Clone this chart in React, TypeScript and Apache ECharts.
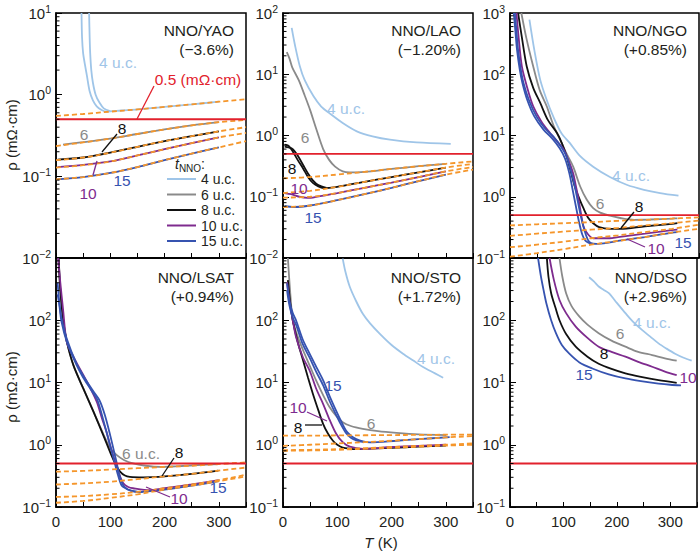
import React, { useEffect, useRef } from 'react';
import * as echarts from 'echarts';

const FONT = '"Liberation Sans", Arial, Helvetica, sans-serif';
const TXT = '#231f20';
const C = { lb: '#9fc5e8', gr: '#8a8a8a', bk: '#111111', pu: '#7e2b8e', bl: '#3653b0', or: '#f5962b', rd: '#e2212c' };

const T_MIN = 0;
const T_MAX = 350;
const T_STEP = 50;
const THRESHOLD = 0.5;
const FIT_T = [0, 50, 100, 150, 200, 250, 300, 350];
const LEGEND_NAMES = ['4 u.c.', '6 u.c.', '8 u.c.', '10 u.c.', '15 u.c.'];

// ---------- NNO/YAO ----------
const YAO_FIT_4 = [0.55, 0.58, 0.62, 0.66, 0.71, 0.76, 0.82, 0.88];
const YAO_FIT_6 = [0.235, 0.26, 0.29, 0.33, 0.375, 0.42, 0.46, 0.49];
const YAO_FIT_8 = [0.158, 0.17, 0.195, 0.23, 0.27, 0.31, 0.355, 0.4];
const YAO_FIT_10 = [0.128, 0.137, 0.152, 0.18, 0.215, 0.255, 0.3, 0.34];
const YAO_FIT_15 = [0.092, 0.098, 0.11, 0.13, 0.158, 0.19, 0.226, 0.27];
const YAO_4A = [[47, 10], [48, 5], [50, 3.2], [53, 2.4], [57, 1.7], [62, 1.1], [68, 0.85], [75, 0.72], [84, 0.65], [93, 0.62], [120, 0.64], [150, 0.66], [200, 0.71], [250, 0.76], [300, 0.82]];
const YAO_4B = [[61, 10], [62, 5], [63, 3.2], [65, 2.0], [68, 1.4], [73, 1.0], [80, 0.8], [88, 0.68], [100, 0.63]];
const YAO_6 = [[13, 0.245], [50, 0.262], [100, 0.29], [150, 0.33], [200, 0.375], [250, 0.42], [300, 0.46]];
const YAO_8 = [[3, 0.16], [50, 0.17], [100, 0.195], [150, 0.23], [200, 0.27], [250, 0.31], [300, 0.355]];
const YAO_10 = [[3, 0.13], [50, 0.138], [100, 0.152], [150, 0.18], [200, 0.215], [250, 0.255], [300, 0.3]];
const YAO_15 = [[3, 0.092], [50, 0.098], [100, 0.11], [150, 0.13], [200, 0.158], [250, 0.19], [300, 0.226]];

// ---------- NNO/LAO ----------
const LAO_FIT_6 = [0.2, 0.21, 0.23, 0.255, 0.285, 0.315, 0.345, 0.378];
const LAO_FIT_8 = [0.115, 0.125, 0.145, 0.175, 0.21, 0.25, 0.3, 0.343];
const LAO_FIT_10 = [0.097, 0.1, 0.115, 0.14, 0.17, 0.21, 0.26, 0.306];
const LAO_FIT_15 = [0.068, 0.072, 0.088, 0.11, 0.14, 0.18, 0.23, 0.277];
const LAO_4 = [[16, 57], [22, 30], [31, 13.5], [40, 8], [56, 4.4], [70, 3.0], [86, 2.3], [110, 1.6], [136, 1.17], [165, 0.97], [197, 0.855], [246, 0.77], [309, 0.73]];
const LAO_6 = [[7, 23], [12, 18], [17, 13], [29, 8], [40, 4.5], [50, 2.6], [61, 1.3], [74, 0.6], [85, 0.4], [96, 0.31], [110, 0.26], [123, 0.25], [150, 0.255], [200, 0.285], [250, 0.315], [300, 0.345]];
const LAO_8A = [[3, 0.71], [10, 0.68], [18, 0.55], [27, 0.4], [37, 0.29], [46, 0.21], [55, 0.168], [65, 0.148], [74, 0.139], [85, 0.14], [100, 0.145], [150, 0.175], [200, 0.21], [250, 0.25], [300, 0.3]];
const LAO_8B = [[3, 0.66], [10, 0.64], [18, 0.6], [27, 0.47], [37, 0.33], [46, 0.24], [55, 0.185], [65, 0.155], [80, 0.14]];
const LAO_10 = [[3, 0.115], [15, 0.11], [30, 0.1], [45, 0.096], [55, 0.097], [100, 0.115], [150, 0.14], [200, 0.17], [250, 0.21], [300, 0.26]];
const LAO_15 = [[3, 0.07], [20, 0.068], [50, 0.072], [100, 0.088], [150, 0.11], [200, 0.14], [250, 0.18], [300, 0.23]];

// ---------- NNO/NGO ----------
const NGO_FIT_6 = [0.34, 0.355, 0.37, 0.385, 0.405, 0.42, 0.44, 0.46];
const NGO_FIT_8 = [0.23, 0.25, 0.27, 0.29, 0.31, 0.34, 0.37, 0.41];
const NGO_FIT_10 = [0.15, 0.165, 0.185, 0.21, 0.235, 0.265, 0.3, 0.35];
const NGO_FIT_15 = [0.105, 0.12, 0.14, 0.165, 0.19, 0.22, 0.26, 0.3];
const NGO_4 = [[36, 780], [45, 250], [56, 81], [68, 38], [80, 20.5], [95, 11], [111, 7.5], [130, 4.6], [154, 3.1], [185, 2.1], [216, 1.57], [248, 1.3], [278, 1.15], [312, 1.04]];
const NGO_6 = [[21, 1000], [30, 400], [43, 134], [55, 55], [68, 30], [80, 15], [93, 8.5], [105, 5], [117, 3.1], [130, 1.47], [142, 0.9], [154, 0.65], [167, 0.55], [185, 0.49], [204, 0.45], [230, 0.42], [260, 0.425], [300, 0.44], [310, 0.445]];
const NGO_8 = [[15, 1000], [22, 400], [31, 134], [43, 60], [56, 34], [70, 18], [87, 11], [96, 7.5], [105, 4.5], [113, 2.5], [120, 1.47], [128, 0.95], [136, 0.65], [145, 0.45], [154, 0.37], [165, 0.32], [185, 0.3], [204, 0.3], [250, 0.33], [300, 0.36], [310, 0.37]];
const NGO_10 = [[12, 1000], [16, 400], [22, 134], [32, 60], [43, 30], [58, 17], [74, 11], [90, 7.5], [99, 6], [108, 4], [117, 2.4], [122, 1.5], [127, 0.9], [132, 0.5], [136, 0.33], [142, 0.26], [154, 0.21], [185, 0.21], [200, 0.22], [250, 0.25], [300, 0.285], [310, 0.29]];
const NGO_15A = [[9, 1000], [12, 500], [15, 250], [20, 120], [25, 72], [35, 38], [49, 20.5], [65, 13], [80, 9.7], [95, 6.5], [105, 4.5], [113, 2.6], [120, 1.47], [126, 0.8], [132, 0.45], [138, 0.28], [144, 0.2], [150, 0.175], [160, 0.17], [185, 0.18], [200, 0.19], [250, 0.22], [300, 0.26], [310, 0.265]];
const NGO_15B = [[7, 1000], [10, 500], [13, 250], [18, 120], [23, 72], [32, 38], [45, 20.5], [62, 12.5], [78, 9], [92, 6.2], [102, 4.2], [110, 2.4], [116, 1.3], [122, 0.7], [128, 0.38], [134, 0.24], [140, 0.19], [150, 0.17]];

// ---------- NNO/LSAT ----------
const LSAT_FIT_6 = [0.37, 0.38, 0.4, 0.42, 0.44, 0.46, 0.49, 0.52];
const LSAT_FIT_8 = [0.23, 0.24, 0.255, 0.28, 0.31, 0.34, 0.385, 0.43];
const LSAT_FIT_10 = [0.145, 0.15, 0.16, 0.175, 0.2, 0.23, 0.27, 0.33];
const LSAT_FIT_15 = [0.117, 0.125, 0.14, 0.16, 0.19, 0.22, 0.26, 0.31];
const LSAT_6 = [[4, 1000], [8, 300], [13, 96], [20, 45], [32, 19], [50, 8.1], [69, 3.4], [87, 1.5], [100, 0.87], [112, 0.68], [125, 0.57], [142, 0.5], [165, 0.46], [192, 0.44], [220, 0.45], [260, 0.47], [300, 0.49]];
const LSAT_8 = [[5, 1000], [8, 300], [13.5, 96], [20, 45], [32, 19], [50, 8.1], [69, 3.4], [87, 1.43], [102, 0.68], [110, 0.48], [118, 0.37], [127, 0.32], [136, 0.305], [161, 0.3], [200, 0.31], [250, 0.34], [299, 0.385]];
const LSAT_10 = [[4, 1000], [8, 400], [13, 150], [19.6, 46], [30, 28], [50, 13.3], [62, 8.5], [75, 4.9], [85, 2.6], [93, 1.62], [101, 0.9], [109, 0.53], [117, 0.33], [124, 0.24], [133, 0.21], [142, 0.2], [173, 0.186], [200, 0.2], [250, 0.23], [300, 0.27]];
const LSAT_15A = [[3, 260], [6, 180], [10, 96], [20, 45], [38, 19], [50, 12], [63, 8], [75, 5.5], [81, 3.9], [93, 1.6], [106, 0.6], [114, 0.33], [121, 0.22], [128, 0.2], [136, 0.186], [150, 0.175], [200, 0.19], [250, 0.22], [300, 0.26]];
const LSAT_15B = [[3, 400], [6, 200], [10, 110], [20, 50], [38, 20], [55, 11], [70, 7], [80, 5.2], [90, 3], [100, 1.4], [110, 0.6], [118, 0.3], [126, 0.21], [140, 0.18], [160, 0.175]];

// ---------- NNO/STO ----------
const STO_FIT_6 = [1.4, 1.4, 1.41, 1.42, 1.43, 1.44, 1.45, 1.46];
const STO_FIT_15 = [0.96, 1.0, 1.05, 1.1, 1.16, 1.23, 1.31, 1.38];
const STO_FIT_10 = [0.82, 0.83, 0.85, 0.88, 0.92, 0.96, 1.0, 1.05];
const STO_FIT_8 = [0.8, 0.81, 0.83, 0.86, 0.89, 0.93, 0.97, 1.0];
const STO_4 = [[110, 980], [115, 600], [123, 345], [135, 200], [147, 127], [160, 90], [178, 61], [200, 40], [221, 29], [240, 22.5], [258, 17.7], [280, 14], [295, 11.9]];
const STO_6 = [[9, 1000], [13, 300], [18, 100], [27, 55], [37, 33], [50, 18], [61, 10.8], [75, 6], [86, 4], [98, 2.9], [110, 2.3], [125, 2.0], [147, 1.8], [175, 1.65], [209, 1.55], [250, 1.47], [301, 1.43]];
const STO_8 = [[9, 440], [13, 200], [18, 100], [27, 45], [37, 22.6], [46, 12], [55, 6.6], [65, 3.6], [74, 2.15], [83, 1.5], [92, 1.16], [100, 1.0], [110, 0.9], [125, 0.86], [135, 0.85], [150, 0.86], [200, 0.89], [250, 0.93], [300, 0.97]];
const STO_10 = [[7.5, 410], [12, 200], [18, 100], [24, 54], [37, 25], [49, 15.6], [61, 8], [74, 4.5], [86, 2.5], [98, 1.5], [110, 1.1], [123, 0.93], [147, 0.86], [200, 0.92], [250, 0.96], [300, 1.0]];
const STO_15A = [[7.5, 390], [12, 200], [18, 130], [24, 100], [36, 50], [49, 29], [61, 18], [74, 10.8], [86, 6], [98, 3.5], [107, 2.4], [116, 1.7], [125, 1.4], [135, 1.23], [147, 1.13], [160, 1.09], [209, 1.16], [250, 1.23], [307, 1.33]];
const STO_15B = [[7.5, 300], [12, 170], [18, 110], [24, 85], [36, 42], [49, 25], [61, 15], [74, 9], [86, 5], [98, 3], [107, 2.1], [116, 1.55], [125, 1.3], [135, 1.18], [150, 1.1]];

// ---------- NNO/DSO ----------
const DSO_4 = [[148, 490], [157, 420], [166, 348], [175, 310], [185, 272], [200, 190], [216, 130], [230, 95], [247, 70], [262, 55], [278, 42.5], [293, 35], [309, 29], [325, 25], [340, 22.4]];
const DSO_6 = [[92.6, 1000], [98, 500], [105, 272], [115, 170], [130, 114], [145, 85], [166, 62], [190, 47], [216, 37.6], [240, 31], [266, 27.6], [290, 24.5], [312, 22.4]];
const DSO_8 = [[69, 1000], [72, 500], [77, 272], [85, 160], [92.6, 100], [105, 60], [123, 37.6], [145, 26], [166, 20], [190, 16.5], [216, 14], [245, 12.3], [278, 10.9], [312, 9.9]];
const DSO_10 = [[74, 1000], [82, 450], [92.6, 212], [105, 130], [123, 79], [145, 52], [166, 37.6], [190, 31], [216, 26], [240, 21.5], [266, 17.9], [290, 15], [312, 13.1]];
const DSO_15 = [[52.5, 1000], [58, 500], [63, 300], [68, 188], [77, 100], [86, 62], [97, 40], [111, 29], [130, 21], [154, 16.8], [185, 13.5], [216, 11.6], [245, 10.5], [278, 9.6], [300, 9.2], [320, 9]];

type Line = { data: number[][]; color: string; legend?: string };
type Label = { t: string; x: number; y: number; c: string };
type Leader = { x1: number; y1: number; x2: number; y2: number; c: string };
type Panel = {
  title: string; strain: string; yMin: number; yMax: number;
  left: number; top: number; width: number; height: number; row: number;
  fits: number[][]; lines: Line[]; labels: Label[]; leaders: Leader[];
};

const PANELS: Panel[] = [
  {
    title: 'NNO/YAO', strain: '(−3.6%)', yMin: 0.01, yMax: 10, left: 56, top: 13, width: 190, height: 245, row: 0,
    fits: [YAO_FIT_4, YAO_FIT_6, YAO_FIT_8, YAO_FIT_10, YAO_FIT_15],
    lines: [
      { data: YAO_4A, color: C.lb, legend: '4 u.c.' }, { data: YAO_4B, color: C.lb, legend: '4 u.c.' },
      { data: YAO_6, color: C.gr, legend: '6 u.c.' }, { data: YAO_8, color: C.bk, legend: '8 u.c.' },
      { data: YAO_10, color: C.pu, legend: '10 u.c.' }, { data: YAO_15, color: C.bl, legend: '15 u.c.' },
    ],
    labels: [
      { t: '4 u.c.', x: 118, y: 62, c: C.lb }, { t: '0.5 (mΩ·cm)', x: 198, y: 79, c: C.rd },
      { t: '6', x: 84, y: 134, c: C.gr }, { t: '8', x: 122, y: 128, c: C.bk },
      { t: '10', x: 88, y: 193, c: C.pu }, { t: '15', x: 122, y: 180, c: C.bl },
    ],
    leaders: [
      { x1: 154, y1: 86, x2: 137, y2: 119, c: C.rd },
      { x1: 117, y1: 134, x2: 102, y2: 152, c: C.bk },
      { x1: 97, y1: 161, x2: 93, y2: 175, c: C.pu },
    ],
  },
  {
    title: 'NNO/LAO', strain: '(−1.20%)', yMin: 0.01, yMax: 100, left: 283, top: 13, width: 190, height: 245, row: 0,
    fits: [LAO_FIT_6, LAO_FIT_8, LAO_FIT_10, LAO_FIT_15],
    lines: [
      { data: LAO_4, color: C.lb }, { data: LAO_6, color: C.gr }, { data: LAO_8A, color: C.bk }, { data: LAO_8B, color: C.bk },
      { data: LAO_10, color: C.pu }, { data: LAO_15, color: C.bl },
    ],
    labels: [
      { t: '4 u.c.', x: 346, y: 108, c: C.lb }, { t: '6', x: 305, y: 137, c: C.gr }, { t: '8', x: 292, y: 168, c: C.bk },
      { t: '10', x: 299, y: 188, c: C.pu }, { t: '15', x: 313, y: 217, c: C.bl },
    ],
    leaders: [],
  },
  {
    title: 'NNO/NGO', strain: '(+0.85%)', yMin: 0.1, yMax: 1000, left: 510, top: 13, width: 189, height: 245, row: 0,
    fits: [NGO_FIT_6, NGO_FIT_8, NGO_FIT_10, NGO_FIT_15],
    lines: [
      { data: NGO_4, color: C.lb }, { data: NGO_6, color: C.gr }, { data: NGO_8, color: C.bk },
      { data: NGO_10, color: C.pu }, { data: NGO_15A, color: C.bl }, { data: NGO_15B, color: C.bl },
    ],
    labels: [
      { t: '4 u.c.', x: 631, y: 175, c: C.lb }, { t: '6', x: 600, y: 203, c: C.gr }, { t: '8', x: 639, y: 206, c: C.bk },
      { t: '10', x: 656, y: 248, c: C.pu }, { t: '15', x: 683, y: 242, c: C.bl },
    ],
    leaders: [
      { x1: 634, y1: 212, x2: 621, y2: 228, c: C.bk },
      { x1: 645, y1: 247, x2: 627, y2: 239, c: C.pu },
    ],
  },
  {
    title: 'NNO/LSAT', strain: '(+0.94%)', yMin: 0.1, yMax: 1000, left: 56, top: 258, width: 190, height: 249, row: 1,
    fits: [LSAT_FIT_6, LSAT_FIT_8, LSAT_FIT_10, LSAT_FIT_15],
    lines: [
      { data: LSAT_6, color: C.gr }, { data: LSAT_8, color: C.bk }, { data: LSAT_10, color: C.pu },
      { data: LSAT_15A, color: C.bl }, { data: LSAT_15B, color: C.bl },
    ],
    labels: [
      { t: '6 u.c.', x: 141, y: 453, c: C.gr }, { t: '8', x: 179, y: 452, c: C.bk },
      { t: '10', x: 179, y: 498, c: C.pu }, { t: '15', x: 218, y: 487, c: C.bl },
    ],
    leaders: [
      { x1: 174, y1: 458, x2: 162, y2: 476, c: C.bk },
      { x1: 170, y1: 497, x2: 146, y2: 487, c: C.pu },
    ],
  },
  {
    title: 'NNO/STO', strain: '(+1.72%)', yMin: 0.1, yMax: 1000, left: 283, top: 258, width: 190, height: 249, row: 1,
    fits: [STO_FIT_6, STO_FIT_15, STO_FIT_10, STO_FIT_8],
    lines: [
      { data: STO_4, color: C.lb }, { data: STO_6, color: C.gr }, { data: STO_8, color: C.bk },
      { data: STO_10, color: C.pu }, { data: STO_15A, color: C.bl }, { data: STO_15B, color: C.bl },
    ],
    labels: [
      { t: '4 u.c.', x: 436, y: 358, c: C.lb }, { t: '15', x: 333, y: 385, c: C.bl }, { t: '10', x: 298, y: 407, c: C.pu },
      { t: '8', x: 298, y: 427, c: C.bk }, { t: '6', x: 371, y: 423, c: C.gr },
    ],
    leaders: [
      { x1: 307, y1: 412, x2: 327, y2: 421, c: C.pu },
      { x1: 305, y1: 425, x2: 322, y2: 425, c: C.bk },
    ],
  },
  {
    title: 'NNO/DSO', strain: '(+2.96%)', yMin: 0.1, yMax: 1000, left: 510, top: 258, width: 189, height: 249, row: 1,
    fits: [],
    lines: [
      { data: DSO_4, color: C.lb }, { data: DSO_6, color: C.gr }, { data: DSO_10, color: C.pu },
      { data: DSO_8, color: C.bk }, { data: DSO_15, color: C.bl },
    ],
    labels: [
      { t: '4 u.c.', x: 652, y: 322, c: C.lb }, { t: '6', x: 620, y: 333, c: C.gr }, { t: '8', x: 604, y: 353, c: C.bk },
      { t: '10', x: 688, y: 377, c: C.pu }, { t: '15', x: 584, y: 374, c: C.bl },
    ],
    leaders: [],
  },
];

function minorTickValues(min: number, max: number): number[][] {
  const out: number[][] = [];
  for (let k = Math.round(Math.log10(min)); k < Math.round(Math.log10(max)); k++) {
    for (let m = 2; m <= 9; m++) out.push([T_MIN, m * Math.pow(10, k)]);
  }
  return out;
}

function expLabel(v: number): string {
  const e = Math.round(Math.log10(v));
  return `{b|10}{s|${e < 0 ? '−' + -e : String(e)}}`;
}

function textEl(text: string, x: number, y: number, color: string, align = 'center', size = 15.5, extra: any = {}) {
  return {
    type: 'text', x, y, silent: true, z: 50, ...extra,
    style: {
      text, fill: color, fontSize: size, fontFamily: FONT,
      align, textAlign: align, verticalAlign: 'middle', textVerticalAlign: 'middle',
      ...(extra.style || {}),
    },
  };
}

function buildOption(): any {
  const grid: any[] = [];
  const xAxis: any[] = [];
  const yAxis: any[] = [];
  const series: any[] = [];
  const graphic: any[] = [];

  PANELS.forEach((p, i) => {
    grid.push({ left: p.left, top: p.top, width: p.width, height: p.height, show: true, borderColor: '#000', borderWidth: 1.5, backgroundColor: 'transparent' });
    xAxis.push({
      type: 'value', gridIndex: i, min: T_MIN, max: T_MAX, interval: T_STEP,
      axisLine: { show: true, lineStyle: { color: '#000', width: 1.5 } },
      axisTick: { show: true, inside: true, length: 5, lineStyle: { color: '#000', width: 1 } },
      splitLine: { show: false },
      axisLabel: {
        show: p.row === 1, margin: 7, fontSize: 15, fontFamily: FONT, color: TXT,
        formatter: (v: number) => (v % 100 === 0 ? String(v) : ''),
      },
    });
    yAxis.push({
      type: 'log', logBase: 10, gridIndex: i, min: p.yMin, max: p.yMax,
      axisLine: { show: true, lineStyle: { color: '#000', width: 1.5 } },
      axisTick: { show: true, inside: true, length: 6, lineStyle: { color: '#000', width: 1 } },
      splitLine: { show: false },
      axisLabel: {
        show: true, margin: 5, showMaxLabel: p.row === 0, showMinLabel: true,
        formatter: expLabel,
        rich: {
          b: { fontSize: 15, lineHeight: 20, fontFamily: FONT, color: TXT },
          s: { fontSize: 10.5, verticalAlign: 'top', fontFamily: FONT, color: TXT },
        },
      },
    });

    // minor ticks
    series.push({
      type: 'custom', xAxisIndex: i, yAxisIndex: i, silent: true, z: 10,
      data: minorTickValues(p.yMin, p.yMax),
      renderItem: (_params: any, api: any) => {
        const pt = api.coord([api.value(0), api.value(1)]);
        return { type: 'line', shape: { x1: pt[0], y1: pt[1], x2: pt[0] + 3.5, y2: pt[1] }, style: { stroke: '#000', lineWidth: 1 } };
      },
    });

    p.lines.forEach((l, j) => {
      series.push({
        type: 'line', name: i === 0 && l.legend ? l.legend : `p${i}-l${j}`, xAxisIndex: i, yAxisIndex: i,
        data: l.data, symbol: 'none', showSymbol: false, smooth: 0.3, z: 2, silent: true,
        color: l.color, lineStyle: { color: l.color, width: 1.8 },
      });
    });

    p.fits.forEach((f, j) => {
      series.push({
        type: 'line', name: `p${i}-f${j}`, xAxisIndex: i, yAxisIndex: i,
        data: FIT_T.map((t, k) => [t, f[k]]), symbol: 'none', showSymbol: false, smooth: 0.4, z: 3, silent: true,
        color: C.or, lineStyle: { color: C.or, width: 1.8, type: [5, 3] },
      });
    });

    series.push({
      type: 'line', name: `p${i}-thr`, xAxisIndex: i, yAxisIndex: i,
      data: [[T_MIN, THRESHOLD], [T_MAX, THRESHOLD]], symbol: 'none', showSymbol: false, z: 4, silent: true,
      color: C.rd, lineStyle: { color: C.rd, width: 1.8 },
    });

    const right = p.left + p.width - 12;
    const ty = p.top + (p.row === 0 ? 17 : 19);
    graphic.push(textEl(p.title, right, ty, TXT, 'right'));
    graphic.push(textEl(p.strain, right, ty + 19, TXT, 'right'));

    p.labels.forEach((lb) => graphic.push(textEl(lb.t, lb.x, lb.y, lb.c)));
    p.leaders.forEach((ld) => graphic.push({
      type: 'line', silent: true, z: 50,
      shape: { x1: ld.x1, y1: ld.y1, x2: ld.x2, y2: ld.y2 },
      style: { stroke: ld.c, lineWidth: 1.3 },
    }));
  });

  // legend title t_NNO:
  graphic.push({
    type: 'text', x: 175, y: 164, silent: true, z: 50,
    style: {
      text: '{i|t}{s|NNO}{n|:}', fontFamily: FONT, fill: TXT,
      align: 'left', textAlign: 'left', verticalAlign: 'middle', textVerticalAlign: 'middle',
      rich: {
        i: { fontSize: 14, fontStyle: 'italic', lineHeight: 18, fontFamily: FONT, fill: TXT, color: TXT },
        s: { fontSize: 10, verticalAlign: 'bottom', fontFamily: FONT, fill: TXT, color: TXT },
        n: { fontSize: 14, lineHeight: 18, fontFamily: FONT, fill: TXT, color: TXT },
      },
    },
  });

  // axis titles
  const rhoText = 'ρ (mΩ·cm)';
  graphic.push(textEl(rhoText, 11, 135, TXT, 'center', 15, { rotation: Math.PI / 2 }));
  graphic.push(textEl(rhoText, 11, 387, TXT, 'center', 15, { rotation: Math.PI / 2 }));
  graphic.push({
    type: 'text', x: 381, y: 542, silent: true, z: 50,
    style: {
      text: '{i|T} (K)', fontSize: 15, fontFamily: FONT, fill: TXT,
      align: 'center', textAlign: 'center', verticalAlign: 'middle', textVerticalAlign: 'middle',
      rich: { i: { fontSize: 15, fontStyle: 'italic', fontFamily: FONT, fill: TXT, color: TXT } },
    },
  });

  return {
    animation: false,
    backgroundColor: '#fff',
    textStyle: { fontFamily: FONT },
    grid, xAxis, yAxis, series, graphic,
    legend: {
      show: true, left: 167, top: 172, orient: 'vertical', padding: 0,
      icon: 'rect', itemWidth: 29, itemHeight: 2, itemGap: 1.5, selectedMode: false,
      data: LEGEND_NAMES,
      textStyle: { fontSize: 14, lineHeight: 14, color: TXT, fontFamily: FONT },
    },
  };
}

export default function App() {
  const ref = useRef<HTMLDivElement>(null);
  useEffect(() => {
    if (!ref.current) return;
    const chart = echarts.init(ref.current, null, { renderer: 'svg' });
    chart.setOption(buildOption());
    return () => chart.dispose();
  }, []);
  return <div ref={ref} style={{ position: 'fixed', left: 0, top: 0, width: 700, height: 551, background: '#fff' }} />;
}
